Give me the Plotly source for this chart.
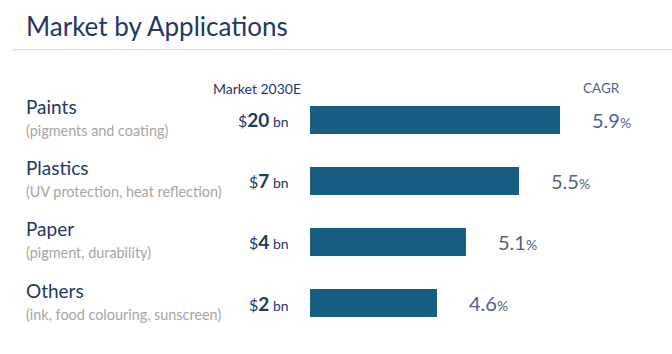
import plotly.graph_objects as go

W, H = 672, 354

categories = ["Paints", "Plastics", "Paper", "Others"]
subtitles = ["(pigments and coating)", "(UV protection, heat reflection)",
             "(pigment, durability)", "(ink, food colouring, sunscreen)"]
market_bn = [20, 7, 4, 2]
cagr_pct = [5.9, 5.5, 5.1, 4.6]
# relative bar length (% of the longest bar)
bar_index = [100, 83.6, 62.4, 50.8]

NAVY = "#1F3864"
BAR = "#175E82"
GREY = "#A6A6A6"
SLATE = "#4F6287"
FONT = "Lato"

fig = go.Figure()
fig.add_trace(go.Bar(
    x=bar_index, y=categories, orientation="h",
    marker=dict(color=BAR, line=dict(width=0)),
    width=0.46, hoverinfo="skip",
))

# pixel geometry helpers (layout only)
x0_px, x100_px = 310, 560
xmax = 100 * (W - x0_px) / (x100_px - x0_px)
top_px, bot_px = 89.5, 333.5

ann = []
for c, s, m, g, b in zip(categories, subtitles, market_bn, cagr_pct, bar_index):
    ann.append(dict(x=24 / W, xref="paper", y=c, yref="y", text=c,
                    xanchor="left", yanchor="middle", yshift=13, showarrow=False,
                    font=dict(family=FONT, size=19, color=NAVY)))
    ann.append(dict(x=24 / W, xref="paper", y=c, yref="y", text=s,
                    xanchor="left", yanchor="middle", yshift=-11, showarrow=False,
                    font=dict(family=FONT, size=14.4, color=GREY)))
    ann.append(dict(x=291 / W, xref="paper", y=c, yref="y",
                    text=f"<span style='font-size:16px'>$</span><b>{m}</b>"
                         f"<span style='font-size:14px'> bn</span>",
                    xanchor="right", yanchor="middle", yshift=0, showarrow=False,
                    font=dict(family=FONT, size=19, color=NAVY)))
    ann.append(dict(x=b, xref="x", y=c, yref="y",
                    text=f"{g}<span style='font-size:14px'>%</span>",
                    xanchor="left", yanchor="middle", xshift=30, showarrow=False,
                    font=dict(family=FONT, size=20, color=SLATE)))

ann.append(dict(x=24 / W, xref="paper", y=1 - 26 / H, yref="paper",
                text="Market by Applications", xanchor="left", yanchor="middle",
                showarrow=False, font=dict(family=FONT, size=26, color=NAVY)))
ann.append(dict(x=303 / W, xref="paper", y=1 - 88 / H, yref="paper",
                text="Market 2030E", xanchor="right", yanchor="middle",
                showarrow=False, font=dict(family=FONT, size=14, color=NAVY)))
ann.append(dict(x=581 / W, xref="paper", y=1 - 88 / H, yref="paper",
                text="CAGR", xanchor="left", yanchor="middle",
                showarrow=False, font=dict(family=FONT, size=13.5, color=SLATE)))

fig.update_layout(
    width=W, height=H,
    margin=dict(l=0, r=0, t=0, b=0),
    paper_bgcolor="white", plot_bgcolor="white",
    showlegend=False,
    xaxis=dict(domain=[x0_px / W, 1], range=[0, xmax], visible=False, fixedrange=True),
    yaxis=dict(domain=[1 - bot_px / H, 1 - top_px / H], range=[3.5, -0.5],
               visible=False, type="category", fixedrange=True),
    annotations=ann,
    shapes=[dict(type="line", xref="paper", yref="paper", x0=12 / W, x1=1,
                 y0=1 - 49.5 / H, y1=1 - 49.5 / H,
                 line=dict(color="#D9D9D9", width=1))],
)

fig.write_html("out.html", config={"displayModeBar": False})
